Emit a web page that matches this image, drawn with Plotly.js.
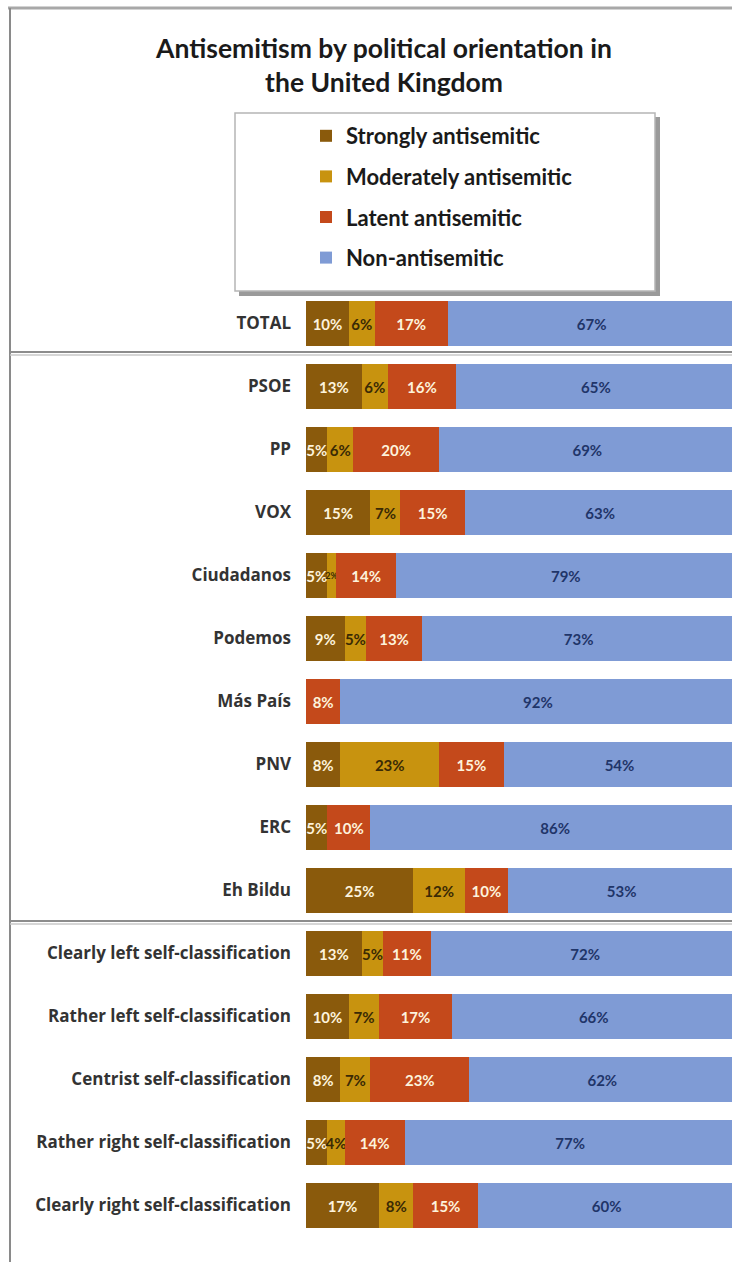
<!DOCTYPE html>
<html>
<head>
<meta charset="utf-8">
<script src="https://cdn.plot.ly/plotly-3.0.1.min.js"></script>
<style>
html,body{margin:0;padding:0;background:#fff;}
#chart{width:732px;height:1262px;}
</style>
</head>
<body>
<div id="chart"></div>
<script>
const categories = [
  "TOTAL", "PSOE", "PP", "VOX", "Ciudadanos", "Podemos", "Más País", "PNV", "ERC", "Eh Bildu",
  "Clearly left self-classification", "Rather left self-classification", "Centrist self-classification",
  "Rather right self-classification", "Clearly right self-classification"
];
const strongly   = [10, 13, 5, 15, 5, 9, 0, 8, 5, 25, 13, 10, 8, 5, 17];
const moderately = [6, 6, 6, 7, 2, 5, 0, 23, 0, 12, 5, 7, 7, 4, 8];
const latent     = [17, 16, 20, 15, 14, 13, 8, 15, 10, 10, 11, 17, 23, 14, 15];
const nonAnti    = [67, 65, 69, 63, 79, 73, 92, 54, 86, 53, 72, 66, 62, 77, 60];
const seriesNames = ["Strongly antisemitic", "Moderately antisemitic", "Latent antisemitic", "Non-antisemitic"];

const W = 732, H = 1262, ML = 306, MR = 0, MT = 292, MB = 25;
const PW = W - ML - MR, PH = H - MT - MB;
const px2x = p => (p - ML) / PW;
const px2y = p => (H - MB - p) / PH;

const colors = ["#8a5a0c", "#c8930f", "#c4491b", "#7f9bd5"];
const textColors = ["#fdf3dc", "#3a2a05", "#fdf3dc", "#1f3569"];
const series = [strongly, moderately, latent, nonAnti];

const traces = series.map((vals, i) => ({
  type: "bar",
  orientation: "h",
  name: seriesNames[i],
  legendgroup: "g" + i,
  y: categories,
  x: vals,
  text: vals.map(v => v ? v + "%" : ""),
  textposition: "inside",
  insidetextanchor: "middle",
  textangle: 0,
  constraintext: "none",
  textfont: {family: "Lato, 'Open Sans', sans-serif", size: vals.map(v => v <= 2 ? 9 : 15),
             color: textColors[i], weight: 700},
  marker: {color: colors[i], line: {width: 0}},
  hoverinfo: "skip"
}));

const sepLine = (py, color, w) => ({
  type: "line", xref: "paper", yref: "paper",
  x0: px2x(10), x1: px2x(732), y0: px2y(py), y1: px2y(py),
  line: {color: color, width: w}, layer: "above"
});

const layout = {
  width: W, height: H,
  margin: {l: ML, r: MR, t: MT, b: MB},
  paper_bgcolor: "#ffffff",
  plot_bgcolor: "#ffffff",
  barmode: "stack",
  bargap: 0.3,
  showlegend: true,
  title: {
    text: "Antisemitism by political orientation in<br>the United Kingdom",
    font: {family: "Lato, 'Open Sans', sans-serif", size: 26.5, color: "#1a1a1a", weight: 700},
    xref: "container", yref: "container",
    x: 384 / W, xanchor: "center",
    y: 1 - 58 / H, yanchor: "top"
  },
  xaxis: {
    range: [0, 99.2], showgrid: false, zeroline: false, showticklabels: false,
    showline: false, ticks: "", fixedrange: true
  },
  yaxis: {
    type: "category", autorange: "reversed", showgrid: false, zeroline: false,
    showline: false, ticks: "", ticklabelstandoff: 14,
    tickfont: {family: "'Open Sans', Lato, sans-serif", size: 17, color: "#333333", weight: 700},
    fixedrange: true
  },
  legend: {
    x: px2x(306), xanchor: "left",
    y: px2y(115), yanchor: "top",
    bgcolor: "rgba(0,0,0,0)", borderwidth: 0,
    traceorder: "grouped",
    tracegroupgap: 9,
    itemwidth: 30,
    font: {family: "Lato, 'Open Sans', sans-serif", size: 22, color: "#1a1a1a", weight: 700}
  },
  shapes: [
    {type: "rect", xref: "paper", yref: "paper", x0: px2x(239), x1: px2x(660), y0: px2y(117), y1: px2y(296),
     fillcolor: "#9a9a9a", line: {width: 0}, layer: "below"},
    {type: "rect", xref: "paper", yref: "paper", x0: px2x(235), x1: px2x(655), y0: px2y(113), y1: px2y(291),
     fillcolor: "#ffffff", line: {color: "#b5b5b5", width: 1.5}, layer: "below"},
    {type: "line", xref: "paper", yref: "paper", x0: px2x(8), x1: px2x(732), y0: px2y(8), y1: px2y(8),
     line: {color: "#a8a8a8", width: 3}},
    {type: "line", xref: "paper", yref: "paper", x0: px2x(10), x1: px2x(10), y0: px2y(8), y1: px2y(1262),
     line: {color: "#8a8a8a", width: 2}},
    sepLine(352, "#8c8c8c", 2),
    sepLine(355, "#c8c8c8", 1.5),
    sepLine(921, "#8c8c8c", 2),
    sepLine(924, "#c8c8c8", 1.5)
  ]
};

Plotly.newPlot("chart", traces, layout, {displayModeBar: false, staticPlot: true});
</script>
</body>
</html>
